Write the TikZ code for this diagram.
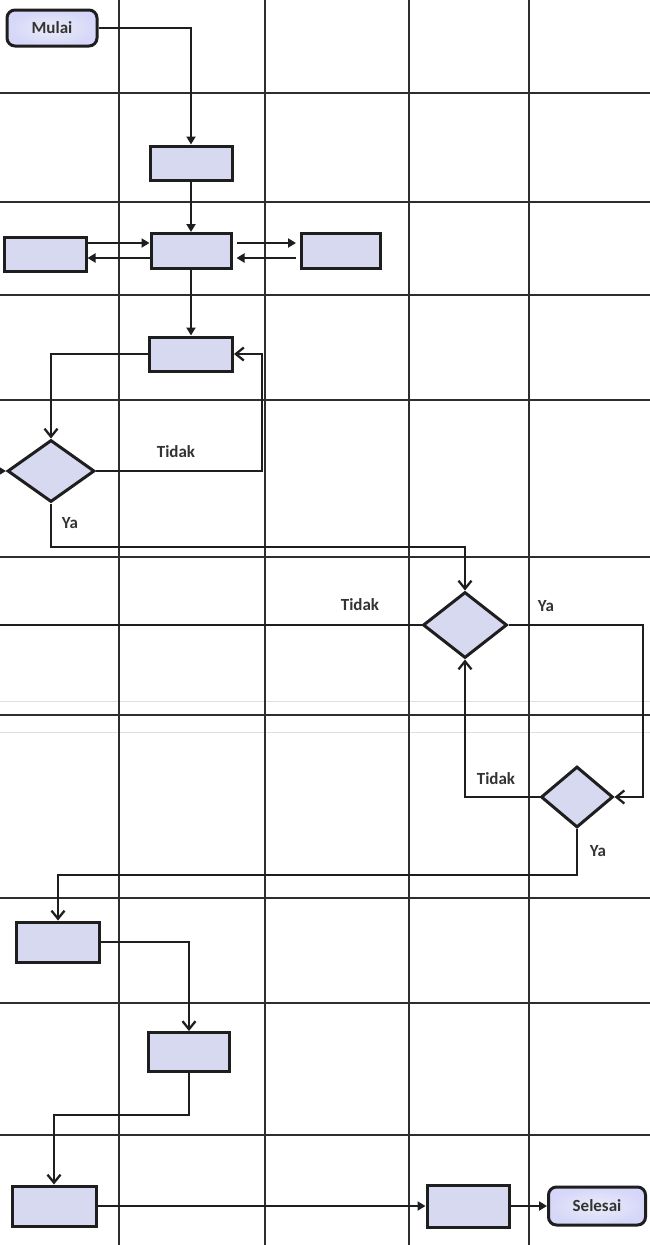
\documentclass[tikz,border=0pt]{standalone}
\usepackage{fontspec}
\setmainfont{Carlito}
\usetikzlibrary{arrows.meta,shapes.geometric}
\definecolor{boxfill}{HTML}{D6D9EF}
\definecolor{ink}{HTML}{1E1E1E}
\definecolor{gridc}{HTML}{2E2E2E}
\definecolor{txt}{HTML}{333333}
\tikzset{
  x=1pt,y=-1pt,
  gridline/.style={draw=gridc,line width=1.8pt},
  faintline/.style={draw=gray!25,line width=0.8pt},
  procbox/.style={draw=ink,fill=boxfill,line width=3pt,rectangle,inner sep=0pt},
  decbox/.style={draw=ink,fill=boxfill,line width=3pt,diamond,inner sep=0pt},
  termbox/.style={draw=ink,line width=3pt,rectangle,rounded corners=8pt,inner sep=0pt,
    inner color=white!50!boxfill,outer color=boxfill!80!blue!50!white,
    font=\fontsize{17}{19}\selectfont\bfseries,text=txt},
  conn/.style={draw=ink,line width=2.3pt},
  openarr/.style={conn,-{Straight Barb[length=8pt,width=13pt]}},
  fillarr/.style={conn,-{Triangle[length=8pt,width=9pt]}},
  lbl/.style={font=\fontsize{17}{19}\selectfont\bfseries,text=txt,inner sep=0pt}
}
\begin{document}
\begin{tikzpicture}
\useasboundingbox (0,0) rectangle (650,1245);
\fill[white] (0,0) rectangle (650,1245);
% faint lines
\draw[faintline] (0,701) -- (650,701);
\draw[faintline] (0,732) -- (650,732);
% grid
\foreach \gx in {119,265,409,529} {\draw[gridline] (\gx,0) -- (\gx,1245);}
\foreach \gy in {93,202,295,400,557,715,898,1003,1135} {\draw[gridline] (0,\gy) -- (650,\gy);}

% nodes
\node[termbox,minimum width=90pt,minimum height=36pt] (mulai) at (52,28) {Mulai};
\node[procbox,minimum width=82pt,minimum height=34pt] (b1) at (191,163) {};
\node[procbox,minimum width=80pt,minimum height=35pt] (b2) at (191,251) {};
\node[procbox,minimum width=82pt,minimum height=34pt] (bl) at (45,254) {};
\node[procbox,minimum width=79pt,minimum height=35pt] (br) at (341,251) {};
\node[procbox,minimum width=83pt,minimum height=34pt] (b3) at (191,354) {};
\node[decbox,minimum width=87pt,minimum height=62pt] (d1) at (51,471) {};
\node[decbox,minimum width=84pt,minimum height=66pt] (d2) at (465,625) {};
\node[decbox,minimum width=72pt,minimum height=61pt] (d3) at (577,797) {};
\node[procbox,minimum width=83pt,minimum height=40pt] (b4) at (58,942) {};
\node[procbox,minimum width=81pt,minimum height=39pt] (b5) at (189,1052) {};
\node[procbox,minimum width=84pt,minimum height=40pt] (b6) at (54,1206) {};
\node[procbox,minimum width=82pt,minimum height=42pt] (b7) at (468,1206) {};
\node[termbox,minimum width=97pt,minimum height=38pt] (sel) at (597,1206) {Selesai};

% helper coordinates
\coordinate (ya1) at (0,243);
\coordinate (ya2) at (0,258);
\coordinate (cR1) at (262,471);
\coordinate (cY1) at (51,547);
\coordinate (eL1) at (0,471);
\coordinate (eL2) at (0,625);
\coordinate (cR2) at (643,625);
\coordinate (cY3) at (577,875);
\coordinate (cY5) at (0,1115);

% connectors
\draw[fillarr] (mulai.east) -| (b1.north);
\draw[fillarr] (b1.south) -- (b2.north);
\draw[fillarr] (bl.east |- ya1) -- (b2.west |- ya1);
\draw[fillarr] (b2.west |- ya2) -- (bl.east |- ya2);
\draw[fillarr,shorten >=4pt,shorten <=4pt] (b2.east |- ya1) -- (br.west |- ya1);
\draw[fillarr,shorten >=4pt,shorten <=4pt] (br.west |- ya2) -- (b2.east |- ya2);
\draw[fillarr] (b2.south) -- (b3.north);
\draw[openarr] (b3.west) -| (d1.north);
\draw[openarr] (d1.east) -- (cR1) |- (b3.east);
\draw[openarr] (d1.south) -- (cY1) -| (d2.north);
\draw[fillarr] (eL1) -- (d1.west);
\draw[conn] (d2.west) -- (eL2);
\draw[openarr] (d2.east) -- (cR2) |- (d3.east);
\draw[openarr] (d3.west) -| (d2.south);
\draw[openarr] (d3.south) -- (cY3) -| (b4.north);
\draw[openarr] (b4.east) -| (b5.north);
\draw[openarr] (b5.south) -- (b5.south |- cY5) -| (b6.north);
\draw[fillarr] (b6.east) -- (b7.west);
\draw[fillarr] (b7.east) -- (sel.west);

% labels
\node[lbl] (t1) at (176,452) {Tidak};
\node[lbl] (y1) at (70,523) {Ya};
\node[lbl] (t2) at (360,605) {Tidak};
\node[lbl] (y2) at (546,606) {Ya};
\node[lbl] (t3) at (496,779) {Tidak};
\node[lbl] (y3) at (598,851) {Ya};
\end{tikzpicture}
\end{document}
